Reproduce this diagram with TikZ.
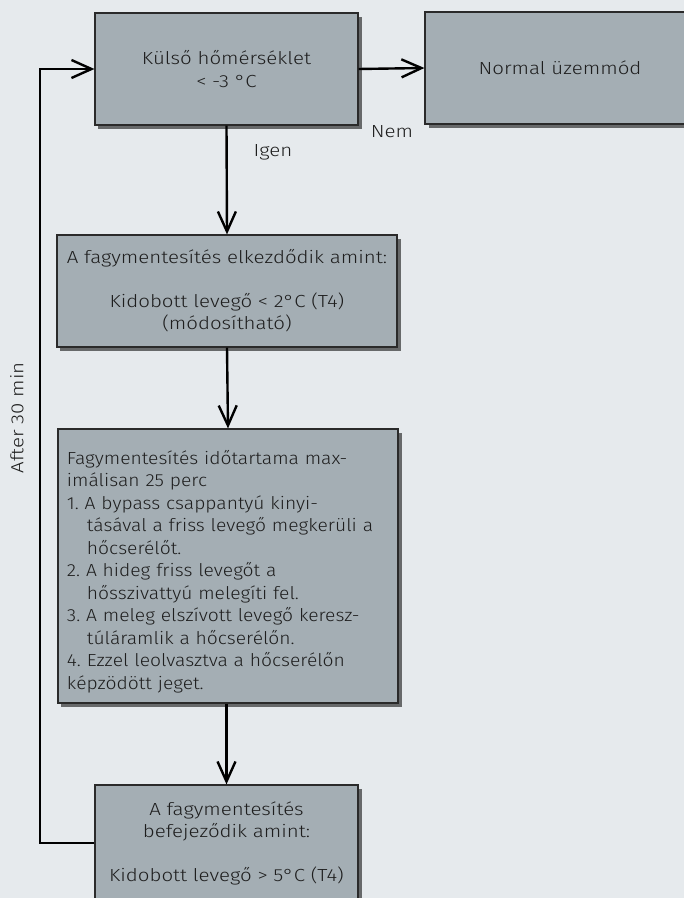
\documentclass[tikz,border=0pt]{standalone}
\usepackage{fontspec}
\setmainfont{Fira Sans}[UprightFont={* Light},FakeStretch=1.17]
\newfontfamily\listfont{Fira Sans}[UprightFont={* Light},FakeStretch=1.1]
\usetikzlibrary{arrows.meta,shadows,positioning}
\definecolor{bg}{HTML}{E6EAED}
\definecolor{boxfill}{HTML}{A4AEB4}
\definecolor{boxline}{HTML}{2A2A2A}
\definecolor{txt}{HTML}{1E1E1E}
\newcommand{\hang}{\hspace*{20bp}}
\begin{document}
\frenchspacing
\begin{tikzpicture}[x=1bp,y=-1bp,
  box/.style={draw=boxline, fill=boxfill, line width=1.2bp, text=txt,
    font=\fontsize{17.5bp}{22.5bp}\selectfont, align=center, inner sep=0pt,
    drop shadow={shadow xshift=3.5bp, shadow yshift=-4bp, opacity=0.55, fill=black}},
  arr/.style={-{Straight Barb[length=20bp,width=18bp]}, line width=2.4bp, draw=black},
  lbl/.style={text=txt, font=\fontsize{17.5bp}{20bp}\selectfont, inner sep=0pt}]
\clip (0,0) rectangle (684,898);
\fill[bg] (0,0) rectangle (684,898);
\node[box, minimum width=263bp, minimum height=112bp] (b1) at (226.5,69) {Külső hőmérséklet\\< -3 °C};
\node[box, minimum width=290bp, minimum height=112bp] (b2) at (570,68) {Normal üzemmód\hspace*{20bp}};
\node[box, minimum width=340bp, minimum height=112bp] (b3) at (227,291) {A fagymentesítés elkezdődik amint:\\[21bp]Kidobott levegő < 2°C (T4)\\(módosítható)};
\node[box, text width=322bp, align=left, inner xsep=9bp, minimum height=274bp,
  font=\listfont\fontsize{17.5bp}{22.5bp}\selectfont] (b4) at (228,566) {\rule{0pt}{25bp}Fagymentesítés időtartama max-\\imálisan 25 perc\\1. A bypass csappantyú kinyi-\\\hang tásával a friss levegő megkerüli a\\\hang hőcserélőt.\\2. A hideg friss levegőt a\\\hang hősszivattyú melegíti fel.\\3. A meleg elszívott levegő keresz-\\\hang túláramlik a hőcserélőn.\\4. Ezzel leolvasztva a hőcserélőn\\képzödött jeget.};
\node[box, minimum width=263bp, minimum height=116bp] (b5) at (226.5,843) {A fagymentesítés\\befejeződik amint:\\[21bp]Kidobott levegő > 5°C (T4)};
\coordinate (lp) at (40,843);
\draw[arr] (b1.east) -- (b2.west);
\draw[arr] (b1.south) -- (b3.north);
\draw[arr] (b3.south) -- (b4.north);
\draw[arr] (b4.south -| b5.north) -- (b5.north);
\draw[arr] (b5.west) -- (lp) |- (b1.west);
\node[lbl] (nem) at (392,132) {Nem};
\node[lbl] (igen) at (273,152) {Igen};
\node[lbl, rotate=90] (after) at (17,418) {After 30 min};
\end{tikzpicture}
\end{document}
